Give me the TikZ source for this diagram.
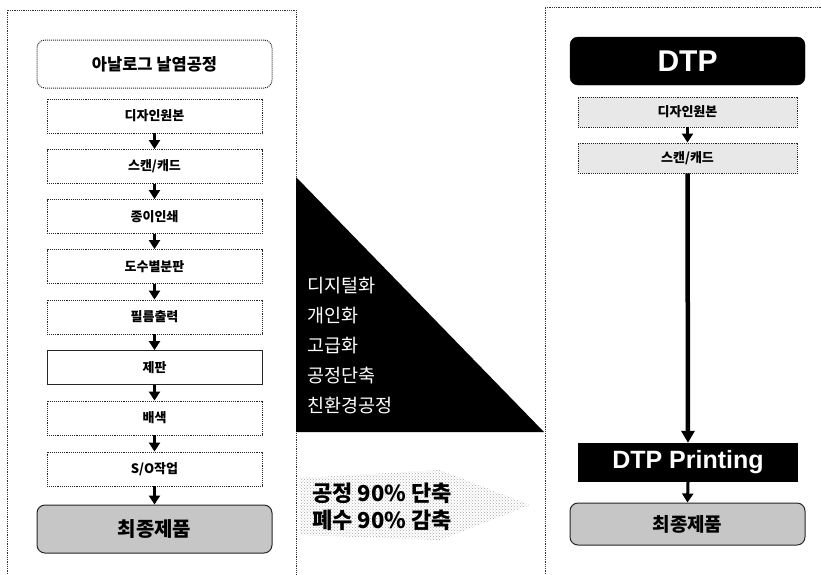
\documentclass[tikz,border=0pt]{standalone}
\usepackage{fontspec}
\setmainfont{Noto Sans CJK KR}
\newfontfamily\lat{Liberation Sans}
\usetikzlibrary{arrows.meta,patterns}
\begin{document}
\begin{tikzpicture}[x=1pt,y=-1pt,
  panel/.style={draw=black!80,line width=0.8pt,densely dotted},
  stepbox/.style={draw=black!85,line width=0.9pt,densely dotted,minimum width=215pt,minimum height=34pt,inner sep=0pt,font=\fontsize{13}{15}\selectfont\bfseries},
  titlebox/.style={draw=black!85,line width=1pt,densely dotted,rounded corners=8pt,minimum width=235pt,minimum height=48pt,inner sep=0pt,font=\fontsize{16.5}{18}\selectfont\bfseries},
  finalbox/.style={draw=black!85,line width=1pt,rounded corners=8pt,fill=gray!45,minimum width=235pt,inner sep=0pt,font=\fontsize{20}{22}\selectfont\bfseries},
  dtpbox/.style={draw=black!85,line width=0.9pt,densely dotted,fill=gray!18,minimum width=219pt,minimum height=30pt,inner sep=0pt,font=\fontsize{13}{15}\selectfont\bfseries},
  flow/.style={line width=3pt,-{Triangle[width=11pt,length=9pt]}},
  bigflow/.style={line width=4.5pt,-{Triangle[width=13pt,length=12pt]}}
]
\useasboundingbox (0,0) rectangle (821,574);
% panels
\draw[panel] (7,574) -- (7,10) -- (296,10) -- (296,574);
\draw[panel] (545,574) -- (545,7) -- (821,7);
% triangle
\fill[black] (296,177) -- (544,432) -- (296,432) -- cycle;
% sparkle background
\fill[pattern=crosshatch dots,pattern color=gray!70] (300,478) -- (440,470) -- (530,505) -- (440,540) -- (300,535) -- cycle;

% left column
\node[titlebox] (t) at (154.5,64) {아날로그 날염공정};
\node[stepbox] (a1) at (154.5,116) {디자인원본};
\node[stepbox] (a2) at (154.5,166.5) {스캔/캐드};
\node[stepbox] (a3) at (154.5,216.5) {종이인쇄};
\node[stepbox] (a4) at (154.5,266.5) {도수별분판};
\node[stepbox] (a5) at (154.5,317) {필름출력};
\node[stepbox,solid] (a6) at (154.5,367.5) {제판};
\node[stepbox] (a7) at (154.5,418) {배색};
\node[stepbox] (a8) at (154.5,469) {S/O작업};
\node[finalbox,minimum height=48pt] (af) at (154.5,529) {최종제품};
\foreach \p/\q in {a1/a2,a2/a3,a3/a4,a4/a5,a5/a6,a6/a7,a7/a8,a8/af}
  \draw[flow] (\p.south) -- (\q.north);

% middle texts
\node[anchor=north west,text=white,align=left,inner sep=0pt,font=\fontsize{18.5}{30}\selectfont] (m) at (307,277) {디지털화\\개인화\\고급화\\공정단축\\친환경공정};
\node[anchor=west,align=left,inner sep=0pt,font=\fontsize{22}{27}\selectfont\bfseries] (r) at (312,507) {공정 90\% 단축\\폐수 90\% 감축};

% right column
\node[draw=black,fill=black,rounded corners=8pt,minimum width=235pt,minimum height=48pt,inner sep=0pt,text=white,font=\lat\fontsize{30}{32}\selectfont\bfseries] (d) at (687.5,61) {DTP};
\node[dtpbox] (b1) at (687.5,112) {디자인원본};
\node[dtpbox] (b2) at (687.5,158) {스캔/캐드};
\node[fill=black,minimum width=220pt,minimum height=39pt,inner sep=0pt,text=white,font=\lat\fontsize{25}{27}\selectfont\bfseries] (b3) at (688,462.5) {DTP Printing};
\node[finalbox,minimum height=42pt,font=\fontsize{19}{21}\selectfont\bfseries] (bf) at (687.5,524) {최종제품};
\draw[flow] (b1.south) -- (b2.north);
\draw[bigflow] (b2.south) -- (b3.north);
\draw[flow] (b3.south) -- (bf.north);
\end{tikzpicture}
\end{document}
